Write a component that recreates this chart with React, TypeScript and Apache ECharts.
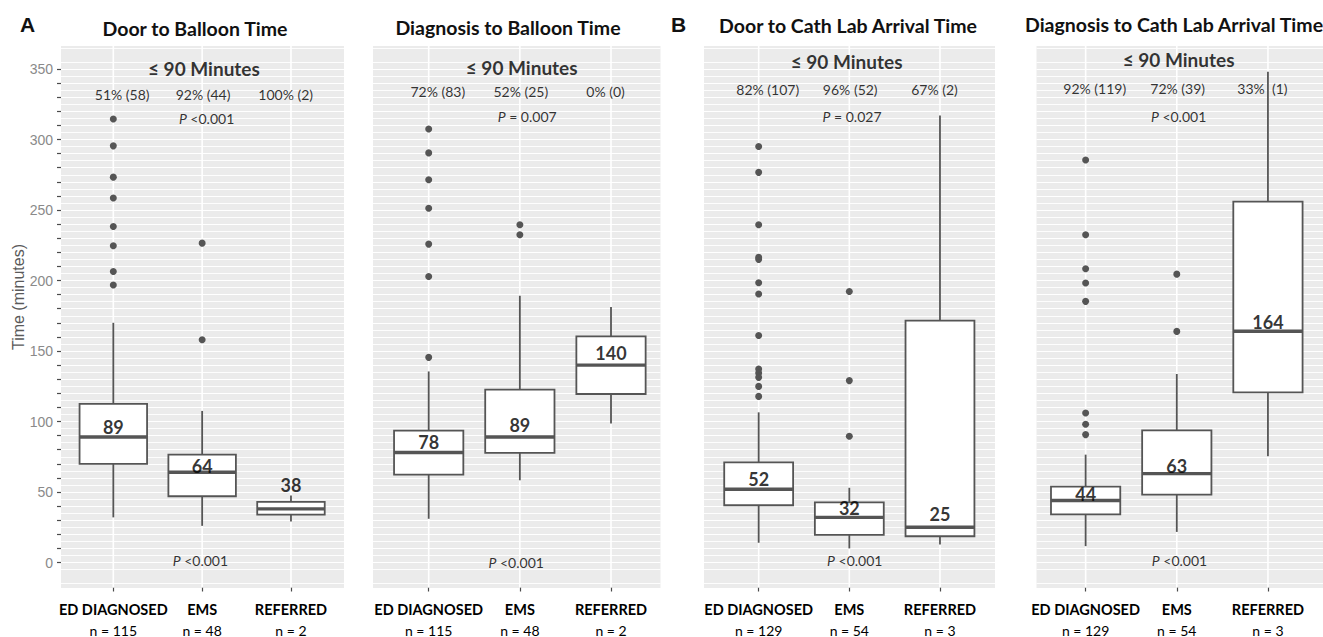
import React, { useEffect, useRef } from "react";
import * as echarts from "echarts";

// ---------------- data ----------------
const categories = ["ED DIAGNOSED", "EMS", "REFERRED"];
const panelTitles = [
  "Door to Balloon Time",
  "Diagnosis to Balloon Time",
  "Door to Cath Lab Arrival Time",
  "Diagnosis to Cath Lab Arrival Time",
];
const groupCounts = [
  [115, 48, 2],
  [115, 48, 2],
  [129, 54, 3],
  [129, 54, 3],
];

// box stats per group: [lower whisker, Q1, median, Q3, upper whisker] (minutes)
const doorToBalloonStats = [
  [32, 70, 89, 112.5, 170],
  [26, 47, 64, 76.5, 107.5],
  [29, 34, 38, 43, 47.5],
];
const diagToBalloonStats = [
  [31, 62.3, 78, 93.5, 135.5],
  [58.3, 77.7, 89, 122.6, 189.2],
  [98.5, 119.5, 140, 160.4, 181.2],
];
const doorToCathStats = [
  [14, 40.6, 52, 71, 106.5],
  [10, 19.6, 32, 42.7, 53],
  [12.7, 18.6, 25, 171.5, 317],
];
const diagToCathStats = [
  [11.6, 34.2, 44, 53.8, 76.5],
  [21.7, 48.2, 63, 93.7, 133.7],
  [75.3, 120.7, 164, 256, 348],
];

// outliers per group (minutes)
const doorToBalloonOutliers = [
  [314.6, 295.5, 273.3, 258.5, 238.3, 224.6, 206.4, 196.8],
  [226.5, 158],
  [],
];
const diagToBalloonOutliers = [
  [307.5, 290.5, 271.4, 251.3, 225.8, 202.8, 145.5],
  [239.5, 232.4],
  [],
];
const doorToCathOutliers = [
  [295, 276.7, 239.5, 216.5, 215, 198.4, 190.4, 161, 137.2, 134.4, 131.3, 124.9, 117.8],
  [192.2, 129, 89.5],
  [],
];
const diagToCathOutliers = [
  [285.5, 232.4, 208.3, 198.2, 185.2, 106, 98, 90.7],
  [204.5, 163.9],
  [],
];

const panelStats = [doorToBalloonStats, diagToBalloonStats, doorToCathStats, diagToCathStats];
const panelOutliers = [doorToBalloonOutliers, diagToBalloonOutliers, doorToCathOutliers, diagToCathOutliers];

const within90Header = "≤ 90 Minutes";
const within90Pct = [
  ["51% (58)", "92% (44)", "100% (2)"],
  ["72% (83)", "52% (25)", "0% (0)"],
  ["82% (107)", "96% (52)", "67% (2)"],
  ["92% (119)", "72% (39)", "33%  (1)"],
];
const pWithin90 = ["<0.001", "= 0.007", "= 0.027", "<0.001"];
const pMedian = ["<0.001", "<0.001", "<0.001", "<0.001"];

const yTickValues = [0, 10, 20, 30, 40, 50, 60, 70, 80, 90, 100, 110, 120, 130, 140, 150, 160, 170, 180, 190, 200, 210, 220, 230, 240, 250, 260, 270, 280, 290, 300, 310, 320, 330, 340, 350];
const yLabelValues = [0, 50, 100, 150, 200, 250, 300, 350];
const xCategoryValues = [1, 2, 3];

// ---------------- layout / style ----------------
const GRID_TOP = 40.8;
const GRID_HEIGHT = 550.4;
const Y_MIN = -20;
const Y_MAX = 370;
const BG_TOP = 366.3;
const BG_BOTTOM = -17.7;
const BOX_WIDTH = 0.76;
const BOX_COLOR = "#555555";
const BG_COLOR = "#ebebeb";
const TEXT_COLOR = "#000000";
const FONT = "Lato, 'Open Sans', sans-serif";

const panelLayout = [
  { left: 61, width: 283, xMin: 0.411, xMax: 3.597, titleX: 195, titleY: 28, titleAlign: "center" },
  { left: 373, width: 287.5, xMin: 0.389, xMax: 3.543, titleX: 508, titleY: 27, titleAlign: "center" },
  { left: 704, width: 291, xMin: 0.397, xMax: 3.607, titleX: 848, titleY: 25, titleAlign: "center" },
  { left: 1036.5, width: 286.5, xMin: 0.461, xMax: 3.604, titleX: 1025, titleY: 24, titleAlign: "left" },
];
// annotation anchor positions in data units per panel
const headerPos = [[2.02, 350.7], [2.02, 351.4], [1.97, 355], [2.02, 356.4]];
const pctY = [332, 333.7, 335.8, 336.5];
const pctX = [1.1, 2.01, 2.94];
const pTopPos = [[2.05, 314.6], [2.08, 316], [2.03, 316], [2.02, 316]];
const pBottomPos = [[1.98, 1.4], [1.96, 0.3], [2.06, 1.4], [2.03, 1.4]];
const medianLabelLift = [
  [7.4, 4.7, 17],
  [7.7, 8.8, 8.8],
  [7.5, 6.3, 9.7],
  [4.9, 5.7, 6.7],
];

function buildOption() {
  const grid: any[] = [];
  const xAxis: any[] = [];
  const yAxis: any[] = [];
  const series: any[] = [];
  const graphic: any[] = [];

  panelLayout.forEach((L, p) => {
    grid.push({ left: L.left, top: GRID_TOP, width: L.width, height: GRID_HEIGHT, containLabel: false });
    graphic.push({
      type: "rect",
      z: -100,
      silent: true,
      shape: { x: L.left, y: 46, width: L.width, height: 542 },
      style: { fill: BG_COLOR },
    });
    graphic.push({
      type: "text",
      x: L.titleX,
      y: L.titleY,
      silent: true,
      style: {
        text: panelTitles[p],
        fill: "#111111",
        font: `bold 19.5px ${FONT}`,
        align: L.titleAlign,
        verticalAlign: "middle",
        textAlign: L.titleAlign,
        textVerticalAlign: "middle",
      },
    });

    xAxis.push({
      gridIndex: p,
      type: "value",
      min: L.xMin,
      max: L.xMax,
      position: "bottom",
      offset: -3.2,
      axisLine: { show: false, onZero: false },
      splitLine: { show: false },
      axisTick: {
        show: true,
        length: 4,
        customValues: xCategoryValues,
        lineStyle: { color: "#4a4a4a", width: 1.2 },
      },
      axisLabel: {
        show: true,
        customValues: xCategoryValues,
        margin: 11,
        formatter: (v: number) => {
          const i = Math.round(v) - 1;
          if (i < 0 || i > 2) return "";
          return `{c|${categories[i]}}\n{n|n = ${groupCounts[p][i]}}`;
        },
        rich: {
          c: { fontFamily: FONT, fontWeight: "bold", fontSize: 14.5, color: TEXT_COLOR, lineHeight: 21 },
          n: { fontFamily: FONT, fontSize: 14, color: TEXT_COLOR, lineHeight: 21 },
        },
      },
    });

    yAxis.push({
      gridIndex: p,
      type: "value",
      min: Y_MIN,
      max: Y_MAX,
      interval: 10,
      axisLine: { show: false, onZero: false },
      axisTick: {
        show: p === 0,
        length: 4,
        customValues: yTickValues,
        lineStyle: { color: "#4a4a4a", width: 1.2 },
      },
      axisLabel: {
        show: p === 0,
        customValues: yLabelValues,
        margin: 8,
        color: "#8a8a8a",
        fontSize: 14,
        fontFamily: "'Liberation Sans', Arial, sans-serif",
        formatter: (v: number) => (yLabelValues.indexOf(v) >= 0 ? String(v) : ""),
      },
      splitLine: { show: true, lineStyle: { color: "#ffffff", width: 1.2 } },
      minorTick: { show: false, splitNumber: 2 },
      minorSplitLine: { show: true, lineStyle: { color: "#ffffff", width: 0.9 } },
    });

    const stats = panelStats[p];
    // boxes
    series.push({
      type: "custom",
      xAxisIndex: p,
      yAxisIndex: p,
      silent: true,
      encode: { x: 0, y: [1, 2, 3, 4, 5] },
      data: stats.map((s, i) => [xCategoryValues[i], ...s]),
      renderItem: (params: any, api: any) => {
        const x = api.value(0);
        const lo = api.coord([x, api.value(1)]);
        const q1 = api.coord([x, api.value(2)]);
        const md = api.coord([x, api.value(3)]);
        const q3 = api.coord([x, api.value(4)]);
        const hi = api.coord([x, api.value(5)]);
        const top = api.coord([x, BG_TOP]);
        const bot = api.coord([x, BG_BOTTOM]);
        const w = api.size([BOX_WIDTH, 0])[0];
        const cx = lo[0];
        return {
          type: "group",
          children: [
            { type: "line", shape: { x1: cx, y1: top[1], x2: cx, y2: bot[1] }, style: { stroke: "#ffffff", lineWidth: 1.6 } },
            { type: "line", shape: { x1: cx, y1: q1[1], x2: cx, y2: lo[1] }, style: { stroke: BOX_COLOR, lineWidth: 1.8 } },
            { type: "line", shape: { x1: cx, y1: q3[1], x2: cx, y2: hi[1] }, style: { stroke: BOX_COLOR, lineWidth: 1.8 } },
            {
              type: "rect",
              shape: { x: cx - w / 2, y: q3[1], width: w, height: q1[1] - q3[1] },
              style: { fill: "#ffffff", stroke: BOX_COLOR, lineWidth: 1.8 },
            },
            { type: "line", shape: { x1: cx - w / 2, y1: md[1], x2: cx + w / 2, y2: md[1] }, style: { stroke: BOX_COLOR, lineWidth: 3.4 } },
          ],
        };
      },
    });
    // outliers
    series.push({
      type: "scatter",
      xAxisIndex: p,
      yAxisIndex: p,
      silent: true,
      symbol: "circle",
      symbolSize: 7,
      itemStyle: { color: BOX_COLOR, opacity: 1 },
      data: panelOutliers[p].flatMap((arr, i) => arr.map((v) => [xCategoryValues[i], v])),
    });
    // median labels
    series.push({
      type: "scatter",
      xAxisIndex: p,
      yAxisIndex: p,
      silent: true,
      symbolSize: 1,
      itemStyle: { color: "rgba(0,0,0,0)" },
      z: 5,
      label: {
        show: true,
        position: "inside",
        fontFamily: FONT,
        fontWeight: "bold",
        fontSize: 18,
        color: TEXT_COLOR,
      },
      data: stats.map((s, i) => ({
        value: [xCategoryValues[i], s[2] + medianLabelLift[p][i]],
        label: { formatter: String(s[2]), color: TEXT_COLOR },
      })),
    });
    // annotations
    const richP = {
      i: { fontFamily: FONT, fontStyle: "italic", fontSize: 14, color: TEXT_COLOR },
      r: { fontFamily: FONT, fontSize: 14, color: TEXT_COLOR },
    };
    const ann: any[] = [];
    ann.push({
      value: headerPos[p],
      label: { formatter: within90Header, fontFamily: FONT, fontWeight: "bold", fontSize: 19, color: TEXT_COLOR },
    });
    within90Pct[p].forEach((t, i) => {
      ann.push({
        value: [pctX[i], pctY[p]],
        label: { formatter: t, fontFamily: FONT, fontSize: 14, color: TEXT_COLOR },
      });
    });
    ann.push({
      value: pTopPos[p],
      label: { formatter: `{i|P}{r| ${pWithin90[p]}}`, rich: richP },
    });
    ann.push({
      value: pBottomPos[p],
      label: { formatter: `{i|P}{r| ${pMedian[p]}}`, rich: richP },
    });
    series.push({
      type: "scatter",
      xAxisIndex: p,
      yAxisIndex: p,
      silent: true,
      symbolSize: 1,
      itemStyle: { color: "rgba(0,0,0,0)" },
      z: 6,
      label: { show: true, position: "inside", color: TEXT_COLOR },
      data: ann,
    });
  });

  // panel letters and y-axis title
  graphic.push({
    type: "text",
    x: 20,
    y: 24.5,
    silent: true,
    style: {
      text: "A",
      fill: "#111111",
      font: "bold 21px 'Liberation Sans', Arial, sans-serif",
      align: "left",
      verticalAlign: "middle",
      textAlign: "left",
      textVerticalAlign: "middle",
    },
  });
  graphic.push({
    type: "text",
    x: 671,
    y: 24.5,
    silent: true,
    style: {
      text: "B",
      fill: "#111111",
      font: "bold 21px 'Liberation Sans', Arial, sans-serif",
      align: "left",
      verticalAlign: "middle",
      textAlign: "left",
      textVerticalAlign: "middle",
    },
  });
  graphic.push({
    type: "text",
    x: 18.5,
    y: 297,
    rotation: Math.PI / 2,
    silent: true,
    style: {
      text: "Time (minutes)",
      fill: "#5a5a5a",
      font: "16px 'Liberation Sans', Arial, sans-serif",
      align: "center",
      verticalAlign: "middle",
      textAlign: "center",
      textVerticalAlign: "middle",
    },
  });

  return {
    animation: false,
    backgroundColor: "#ffffff",
    grid,
    xAxis,
    yAxis,
    series,
    graphic: { elements: graphic },
  };
}

export default function App() {
  const ref = useRef<HTMLDivElement>(null);
  useEffect(() => {
    if (!ref.current) return;
    const chart = echarts.init(ref.current, undefined, { renderer: "svg" });
    chart.setOption(buildOption() as any);
    return () => chart.dispose();
  }, []);
  return (
    <div
      ref={ref}
      style={{ position: "absolute", left: 0, top: 0, width: 1323, height: 637 }}
    />
  );
}
